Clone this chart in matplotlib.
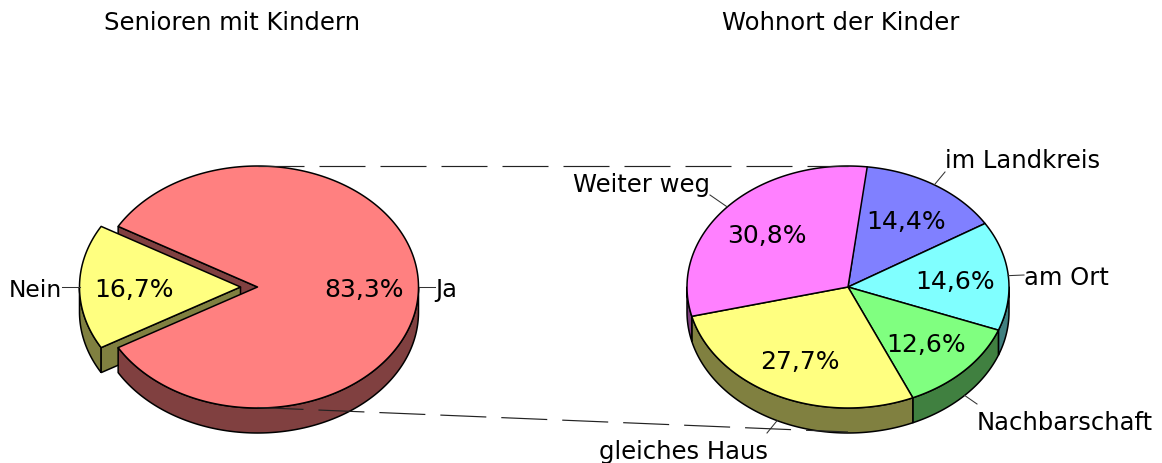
import numpy as np
import matplotlib
matplotlib.use("Agg")
import matplotlib.pyplot as plt

OUTPUT_IMAGE = "out.png"

# Werte
LEFT_TITLE = "Senioren mit Kindern"
LEFT_LABELS = ["Ja", "Nein"]
LEFT_VALUES = [83.3, 16.7]
LEFT_COLORS = ["#FF8080", "#FFFF80"]
LEFT_SIDES = ["#804040", "#808040"]

RIGHT_TITLE = "Wohnort der Kinder"
RIGHT_LABELS = ["im Landkreis", "am Ort", "Nachbarschaft", "gleiches Haus", "Weiter weg"]
RIGHT_VALUES = [14.4, 14.6, 12.6, 27.7, 30.8]
RIGHT_COLORS = ["#8080FF", "#80FFFF", "#80FF80", "#FFFF80", "#FF80FF"]
RIGHT_SIDES = ["#404080", "#408080", "#408040", "#808040", "#804080"]

# Layout in Pixeln
RX, RY, DEPTH = 161, 121, 25
LEFT_C = (257.5, 288)
RIGHT_C = (848, 288)
EXPLODE = 17
FS = 17.5
FS_PCT = 18
LW = 1.1

plt.rcParams["font.family"] = "DejaVu Sans"
plt.rcParams["lines.scale_dashes"] = False

fig = plt.figure(figsize=(11.62, 4.64), dpi=100)
ax = fig.add_axes([0, 0, 1, 1])
ax.set_xlim(0, 1162)
ax.set_ylim(464, 0)
ax.axis("off")


def point(c, deg, dy=0):
    t = np.radians(deg)
    return c[0] + RX * np.cos(t), c[1] - RY * np.sin(t) + dy


def arc(c, a, b, dy=0):
    n = max(int(abs(b - a)) + 2, 3)
    return point(c, np.linspace(a, b, n), dy)


def top(c, a, b, color, z):
    x, y = arc(c, a, b)
    ax.fill(np.r_[c[0], x], np.r_[c[1], y], fc=color, ec="black", lw=LW, zorder=z, joinstyle="round")


def side(c, a, b, color, z):
    # nur die vordere Kante ist sichtbar (a > b, im Uhrzeigersinn)
    lo, hi = max(b, -180), min(a, 0)
    if hi <= lo:
        return
    x1, y1 = arc(c, hi, lo)
    x2, y2 = arc(c, lo, hi, DEPTH)
    ax.fill(np.r_[x1, x2], np.r_[y1, y2], fc=color, ec="black", lw=LW, zorder=z, joinstyle="round")


def cut(c, deg, color, z):
    x, y = point(c, deg)
    ax.fill([c[0], x, x, c[0]], [c[1], y, y + DEPTH, c[1] + DEPTH], fc=color, ec="black", lw=LW, zorder=z)


def leader(x0, y0, x1, y1):
    ax.plot([x0, x1], [y0, y1], color="#333333", lw=0.75, zorder=6)


# linker Kreis: Nein zeigt nach links und ist herausgezogen
nein_half = LEFT_VALUES[1] * 3.6 / 2
ja_start = 180 - nein_half
ja_end = ja_start - LEFT_VALUES[0] * 3.6
nein_c = (LEFT_C[0] - EXPLODE, LEFT_C[1])

cut(LEFT_C, ja_start, LEFT_SIDES[0], 1)
# Seite von Nein
x1, y1 = arc(nein_c, 180, 180 + nein_half)
x2, y2 = arc(nein_c, 180 + nein_half, 180, DEPTH)
ax.fill(np.r_[x1, x2], np.r_[y1, y2], fc=LEFT_SIDES[1], ec="black", lw=LW, zorder=2)
cut(nein_c, 180 + nein_half, LEFT_SIDES[1], 2)
top(nein_c, 180 - nein_half, 180 + nein_half, LEFT_COLORS[1], 3)
side(LEFT_C, 0, ja_end, LEFT_SIDES[0], 4)
top(LEFT_C, ja_start, ja_end, LEFT_COLORS[0], 5)

# rechter Kreis
angle = 83.5
right_mids = []
for value, color, dark in zip(RIGHT_VALUES, RIGHT_COLORS, RIGHT_SIDES):
    end = angle - value * 3.6
    side(RIGHT_C, angle, end, dark, 2)
    top(RIGHT_C, angle, end, color, 3)
    right_mids.append((angle + end) / 2)
    angle = end

# Verbindungslinien
dash = (0, (46 * 0.72, 15 * 0.72))
ax.plot([LEFT_C[0], RIGHT_C[0]], [166.5, 166.5], color="#222222", lw=0.85, ls=dash, zorder=7)
ax.plot([LEFT_C[0], RIGHT_C[0]], [408.5, 433], color="#222222", lw=0.85, ls=dash, zorder=7)

# Titel
ax.text(231.5, 30, LEFT_TITLE, ha="center", va="baseline", fontsize=FS)
ax.text(841, 30, RIGHT_TITLE, ha="center", va="baseline", fontsize=FS)

# Prozentwerte
left_pct = [(364.5, 297), (134, 297)]
right_pct = [(906, 229), (955.5, 289), (926, 352), (800, 369), (767, 243)]
for v, (x, y) in zip(LEFT_VALUES, left_pct):
    ax.text(x, y, f"{v:.1f}%".replace(".", ","), ha="center", va="baseline", fontsize=FS_PCT, zorder=8)
for v, (x, y) in zip(RIGHT_VALUES, right_pct):
    ax.text(x, y, f"{v:.1f}%".replace(".", ","), ha="center", va="baseline", fontsize=FS_PCT, zorder=8)

# Beschriftungen links
leader(LEFT_C[0] + RX, LEFT_C[1], 435, LEFT_C[1])
leader(nein_c[0] - RX, LEFT_C[1], 62, LEFT_C[1])
ax.text(435, 297, LEFT_LABELS[0], ha="left", va="baseline", fontsize=FS)
ax.text(62, 297, LEFT_LABELS[1], ha="right", va="baseline", fontsize=16.8)

# Beschriftungen rechts
label_pos = [(945, 168, "left"), (1024, 285, "left"), (977, 430, "left"), (768, 459, "right"), (710, 192, "right")]
leader_ends = [(945, 173), (1024, 276), (977, 405), (767, 434), (710, 196)]
for label, mid, (x, y, ha), (ex, ey) in zip(RIGHT_LABELS, right_mids, label_pos, leader_ends):
    px, py = point(RIGHT_C, mid, DEPTH if np.sin(np.radians(mid)) < -0.3 else 0)
    leader(px, py, ex, ey)
    ax.text(x, y, label, ha=ha, va="baseline", fontsize=FS, zorder=8)

plt.savefig(OUTPUT_IMAGE, dpi=100)
